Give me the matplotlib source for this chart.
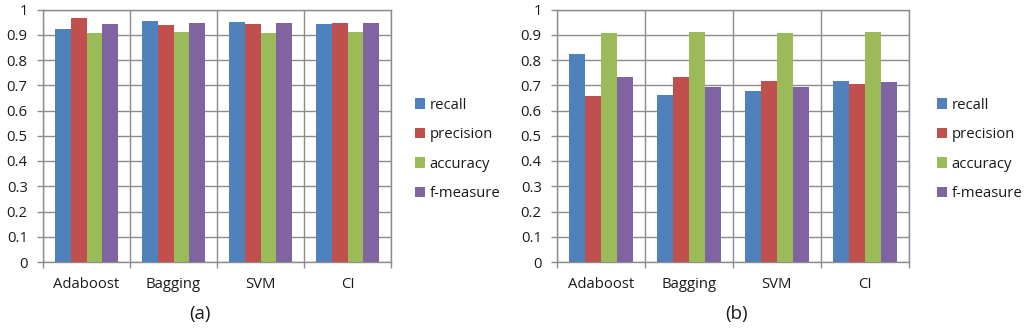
import matplotlib
matplotlib.use("Agg")
import matplotlib.pyplot as plt
import numpy as np
from matplotlib.patches import Patch

categories = ["Adaboost", "Bagging", "SVM", "CI"]
series = ["recall", "precision", "accuracy", "f-measure"]
colors = ["#4F81BD", "#C0504D", "#9BBB59", "#8064A2"]

# panel (a)
a_recall = [0.921, 0.954, 0.950, 0.944]
a_precision = [0.965, 0.939, 0.941, 0.947]
a_accuracy = [0.906, 0.910, 0.907, 0.910]
a_fmeasure = [0.943, 0.945, 0.945, 0.945]

# panel (b)
b_recall = [0.822, 0.661, 0.676, 0.718]
b_precision = [0.657, 0.731, 0.716, 0.705]
b_accuracy = [0.905, 0.909, 0.908, 0.909]
b_fmeasure = [0.733, 0.694, 0.694, 0.713]

yticks = [0, 0.1, 0.2, 0.3, 0.4, 0.5, 0.6, 0.7, 0.8, 0.9, 1]
ytick_labels = ["0", "0.1", "0.2", "0.3", "0.4", "0.5", "0.6", "0.7", "0.8", "0.9", "1"]

plt.rcParams['font.family'] = ['Open Sans', 'DejaVu Sans']
GRID = "#8c8c8c"
TXT = "#1a1a1a"
FS = 10.7

fig = plt.figure(figsize=(10.24, 3.32), dpi=100)

def draw(rect, data, label, legend_x, label_x):
    ax = fig.add_axes(rect)
    n = len(series)
    w = 1.0 / (n + 1.5)
    x = np.arange(len(categories))
    for i, (vals, c) in enumerate(zip(data, colors)):
        ax.bar(x + (i - (n - 1) / 2) * w, vals, width=w, color=c, zorder=3)
    ax.set_xlim(-0.5, len(categories) - 0.5)
    ax.set_ylim(0, 1)
    ax.set_yticks(yticks)
    ax.set_yticklabels(ytick_labels, fontsize=FS, color=TXT)
    ax.set_xticks(x)
    ax.set_xticklabels(categories, fontsize=FS, color=TXT)
    ax.set_xticks(np.arange(len(categories) + 1) - 0.5, minor=True)
    ax.tick_params(axis='x', which='major', length=0, pad=11)
    ax.tick_params(axis='x', which='minor', length=4, color=GRID, width=1)
    ax.tick_params(axis='y', length=4, color=GRID, width=1, pad=7)
    ax.grid(True, axis='y', which='major', color=GRID, linewidth=1, zorder=0)
    ax.grid(True, axis='x', which='minor', color=GRID, linewidth=1, zorder=0)
    for s in ax.spines.values():
        s.set_color(GRID)
        s.set_linewidth(1)
    handles = [Patch(facecolor=c, label=s) for s, c in zip(series, colors)]
    leg = fig.legend(handles=handles, loc='center left',
                     bbox_to_anchor=(legend_x, 1 - 149.5 / 332),
                     frameon=False, fontsize=FS, handlelength=0.68, handleheight=0.68,
                     handletextpad=0.3, labelspacing=0.98, borderpad=0, borderaxespad=0)
    for t in leg.get_texts():
        t.set_color(TXT)
    fig.text(label_x, 1 - 314 / 332, label, fontsize=13.5, ha='center', va='center',
             color=TXT)
    return ax

draw([43 / 1024, 1 - 262 / 332, 348 / 1024, 252.5 / 332],
     [a_recall, a_precision, a_accuracy, a_fmeasure], "(a)", 415 / 1024, 200 / 1024)
draw([557 / 1024, 1 - 262 / 332, 352 / 1024, 252.5 / 332],
     [b_recall, b_precision, b_accuracy, b_fmeasure], "(b)", 937 / 1024, 737 / 1024)

fig.savefig("out.png", dpi=100)
